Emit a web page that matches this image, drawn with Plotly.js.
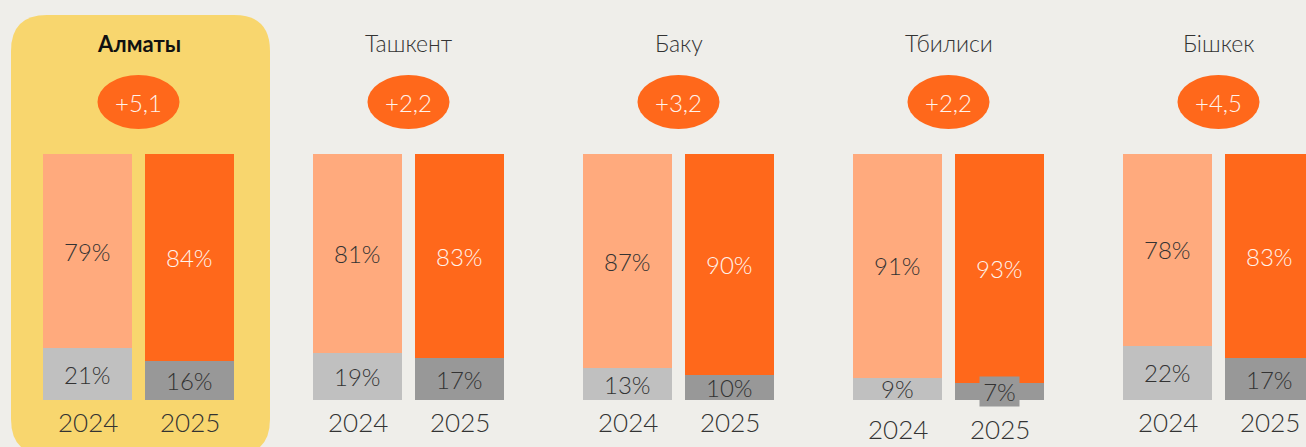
<!DOCTYPE html>
<html><head><meta charset="utf-8">
<script src="https://cdn.plot.ly/plotly-3.0.1.min.js"></script>
<style>html,body{margin:0;padding:0;background:#EFEEEA;}#chart{width:1306px;height:447px;}</style>
</head><body><div id="chart"></div>
<script>
const cities = ["Алматы", "Ташкент", "Баку", "Тбилиси", "Бішкек"];
const years = ["2024", "2025"];
const share2024 = [79, 81, 87, 91, 78];
const rest2024 = [21, 19, 13, 9, 22];
const share2025 = [84, 83, 90, 93, 83];
const rest2025 = [16, 17, 10, 7, 17];
const delta = [5.1, 2.2, 3.2, 2.2, 4.5];
const highlight = 0;

// layout helpers (pixel geometry)
const W = 1306, H = 447, BASE = 400, SCALE = 2.46;
const py = p => (BASE - p) / SCALE;
const GROUP0 = 87.5, GSTEP = 270, BSTEP = 102, BW = 89;
const bx = (i, j) => GROUP0 + GSTEP * i + BSTEP * j;
const cx = i => (bx(i,0) + bx(i,1)) / 2;

const FONT = "Lato, 'Open Sans', sans-serif";
const idx = cities.map((_, i) => i);

const traces = [
  {x: idx.map(i => bx(i,0)), y: rest2024, marker:{color:"#C0C0C0"}},
  {x: idx.map(i => bx(i,0)), y: share2024, marker:{color:"#FFAA7D"}},
  {x: idx.map(i => bx(i,1)), y: rest2025, marker:{color:"#989898"}},
  {x: idx.map(i => bx(i,1)), y: share2025, marker:{color:"#FF681B"}}
].map(t => Object.assign(t, {type:"bar", width: BW, hoverinfo:"none", marker: Object.assign(t.marker, {line:{width:0}})}));

const ann = [];
const lab = (x, y, text, color, extra) => ann.push(Object.assign({
  x, y, xref:"x", yref:"y", text, showarrow:false,
  font:{family:FONT, size:24, color, weight:300}
}, extra || {}));

idx.forEach(i => {
  // bar labels
  lab(bx(i,0), rest2024[i] + share2024[i]/2, share2024[i] + "%", "#333333");
  lab(bx(i,1), rest2025[i] + share2025[i]/2, share2025[i] + "%", "#FFF3EC");
  lab(bx(i,0), rest2024[i]/2, rest2024[i] + "%", "#333333");
  if (rest2025[i] < 9) {
    lab(bx(i,1), py(391.5), rest2025[i] + "%", "#333333", {bgcolor:"#989898", width:39, height:29, borderpad:0});
  } else {
    lab(bx(i,1), rest2025[i]/2, rest2025[i] + "%", "#333333");
  }
  // years
  const shift = rest2025[i] < 9 ? -7 : 0;
  years.forEach((yr, j) => lab(bx(i,j), py(422), yr, "#333333", {yshift: shift, font:{family:FONT, size:26, color:"#333333", weight:300}}));
  // city title
  lab(cx(i), py(43), cities[i], i === highlight ? "#111111" : "#333333",
      {font:{family:FONT, size: i === highlight ? 22 : 23, color: i === highlight ? "#111111" : "#333333", weight: i === highlight ? 700 : 300}});
  // delta
  lab(cx(i), py(102), "+" + delta[i].toFixed(1).replace(".", ","), "#FFF3EC",
      {font:{family:FONT, size:24, color:"#FFF3EC", weight:300}});
});

const shapes = [];
// highlight panel with rounded corners
(function(){
  const x0 = 11, x1 = 270, y0 = 15, y1 = 455, r = 36;
  const Y = p => py(p);
  const path = `M ${x0+r},${Y(y0)} L ${x1-r},${Y(y0)} Q ${x1},${Y(y0)} ${x1},${Y(y0+r)} L ${x1},${Y(y1-r)} Q ${x1},${Y(y1)} ${x1-r},${Y(y1)} L ${x0+r},${Y(y1)} Q ${x0},${Y(y1)} ${x0},${Y(y1-r)} L ${x0},${Y(y0+r)} Q ${x0},${Y(y0)} ${x0+r},${Y(y0)} Z`;
  shapes.push({type:"path", path, xref:"x", yref:"y", fillcolor:"#F8D66E", line:{width:0}, layer:"below"});
})();
idx.forEach(i => shapes.push({type:"circle", xref:"x", yref:"y", x0: cx(i)-41, x1: cx(i)+41, y0: py(129), y1: py(75), fillcolor:"#FF681B", line:{width:0}, layer:"above"}));

const layout = {
  width: W, height: H, margin:{l:0,r:0,t:0,b:0},
  paper_bgcolor:"#EFEEEA", plot_bgcolor:"#EFEEEA",
  barmode:"stack", showlegend:false,
  xaxis:{range:[0, W], visible:false, fixedrange:true},
  yaxis:{range:[py(H), py(0)], visible:false, fixedrange:true},
  shapes, annotations: ann
};
Plotly.newPlot("chart", traces, layout, {displayModeBar:false, staticPlot:true});
</script></body></html>
